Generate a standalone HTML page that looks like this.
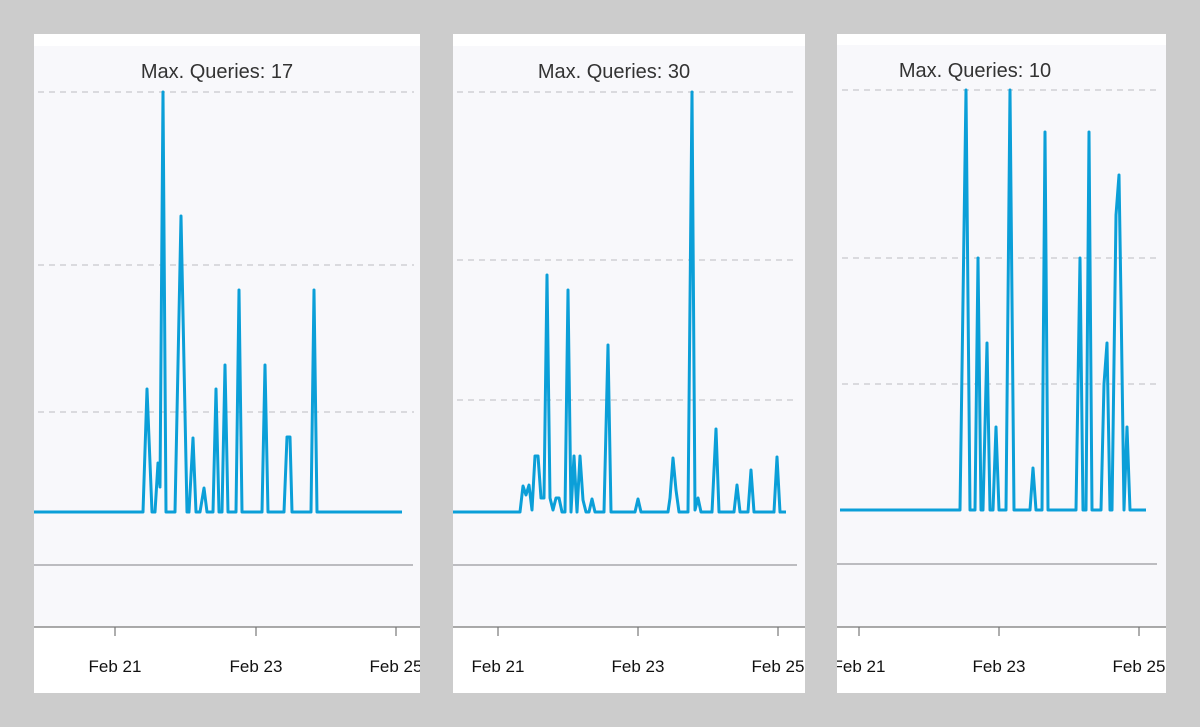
<!DOCTYPE html>
<html><head><meta charset="utf-8"><style>
html,body{margin:0;padding:0;background:#cccccc;}
svg{display:block;}
text{font-family:"Liberation Sans",Arial,sans-serif;}
</style></head><body>
<svg width="1200" height="727" viewBox="0 0 1200 727">
<rect width="1200" height="727" fill="#cccccc"/>
<rect x="34" y="34" width="386" height="659" fill="#ffffff"/>
<rect x="34" y="46" width="386" height="581" fill="#f8f8fb"/>
<rect x="453" y="34" width="352" height="659" fill="#ffffff"/>
<rect x="453" y="46" width="352" height="581" fill="#f8f8fb"/>
<rect x="837" y="34" width="329" height="659" fill="#ffffff"/>
<rect x="837" y="45" width="329" height="582" fill="#f8f8fb"/>

<g stroke="#c8c8cc" stroke-width="1.2" stroke-dasharray="6,5">
<line x1="38" y1="92" x2="414" y2="92"/><line x1="38" y1="265" x2="414" y2="265"/><line x1="38" y1="412" x2="414" y2="412"/>
<line x1="457" y1="92" x2="798" y2="92"/><line x1="457" y1="260" x2="798" y2="260"/><line x1="457" y1="400" x2="798" y2="400"/>
<line x1="842" y1="90" x2="1158" y2="90"/><line x1="842" y1="258" x2="1158" y2="258"/><line x1="842" y1="384" x2="1158" y2="384"/>
</g>
<g stroke="#a8a8ac" stroke-width="1.5">
<line x1="34" y1="565" x2="413" y2="565"/>
<line x1="453" y1="565" x2="797" y2="565"/>
<line x1="837" y1="564" x2="1157" y2="564"/>
</g>
<g stroke="#777" stroke-width="1.2">
<line x1="34" y1="627" x2="420" y2="627"/>
<line x1="115" y1="627" x2="115" y2="636"/><line x1="256" y1="627" x2="256" y2="636"/><line x1="396" y1="627" x2="396" y2="636"/>
<line x1="453" y1="627" x2="805" y2="627"/>
<line x1="498" y1="627" x2="498" y2="636"/><line x1="638" y1="627" x2="638" y2="636"/><line x1="778" y1="627" x2="778" y2="636"/>
<line x1="837" y1="627" x2="1166" y2="627"/>
<line x1="859" y1="627" x2="859" y2="636"/><line x1="999" y1="627" x2="999" y2="636"/><line x1="1139" y1="627" x2="1139" y2="636"/>
</g>

<g fill="none" stroke="#0b9fd8" stroke-width="3" stroke-linejoin="round">
<polyline points="34,512 143,512 147,389 152,512 155,512 158,463 160,487 163,92 166,512 175,512 181,216 187,512 189,512 193,438 196,512 200,512 204,488 207,512 213,512 216,389 219,512 222,512 225,365 228,512 236,512 239,290 242,512 262,512 265,365 268,512 284,512 287,437 290,437 292,512 311,512 314,290 317,512 402,512"/>
<polyline points="453,512 520,512 523,486 526,495 529,485 532,510 535,456 538,456 541,498 544,498 547,275 550,498 553,510 556,498 559,498 562,512 565,512 568,290 571,512 574,456 577,512 580,456 583,500 586,512 589,512 592,499 595,512 604,512 608,345 611,512 635,512 638,499 641,512 668,512 670,498 673,458 676,490 679,512 688,512 692,92 695,510 698,498 701,512 712,512 716,429 719,512 734,512 737,485 740,512 748,512 751,470 754,512 774,512 777,457 780,512 786,512"/>
<polyline points="840,510 960,510 966,90 970,510 975,510 978,258 981,510 983,510 987,343 990,510 993,510 996,427 999,510 1006,510 1010,90 1014,510 1030,510 1033,468 1036,510 1042,510 1045,132 1048,510 1076,510 1080,258 1083,510 1086,510 1089,132 1092,510 1101,510 1104,384 1107,343 1110,510 1112,510 1116,215 1119,175 1121,300 1124,510 1127,427 1130,510 1146,510"/>
</g>

<g font-size="20" fill="#333" text-anchor="middle">
<text x="217" y="78">Max. Queries: 17</text>
<text x="614" y="78">Max. Queries: 30</text>
<text x="975" y="77">Max. Queries: 10</text>
</g>
<svg x="34" y="640" width="386" height="50" overflow="hidden">
<g font-size="17" fill="#111" text-anchor="middle"><text x="81" y="32">Feb 21</text><text x="222" y="32">Feb 23</text><text x="362" y="32">Feb 25</text></g></svg>
<svg x="453" y="640" width="352" height="50" overflow="hidden">
<g font-size="17" fill="#111" text-anchor="middle"><text x="45" y="32">Feb 21</text><text x="185" y="32">Feb 23</text><text x="325" y="32">Feb 25</text></g></svg>
<svg x="837" y="640" width="329" height="50" overflow="hidden">
<g font-size="17" fill="#111" text-anchor="middle"><text x="22" y="32">Feb 21</text><text x="162" y="32">Feb 23</text><text x="302" y="32">Feb 25</text></g></svg>
</svg>
</body></html>
